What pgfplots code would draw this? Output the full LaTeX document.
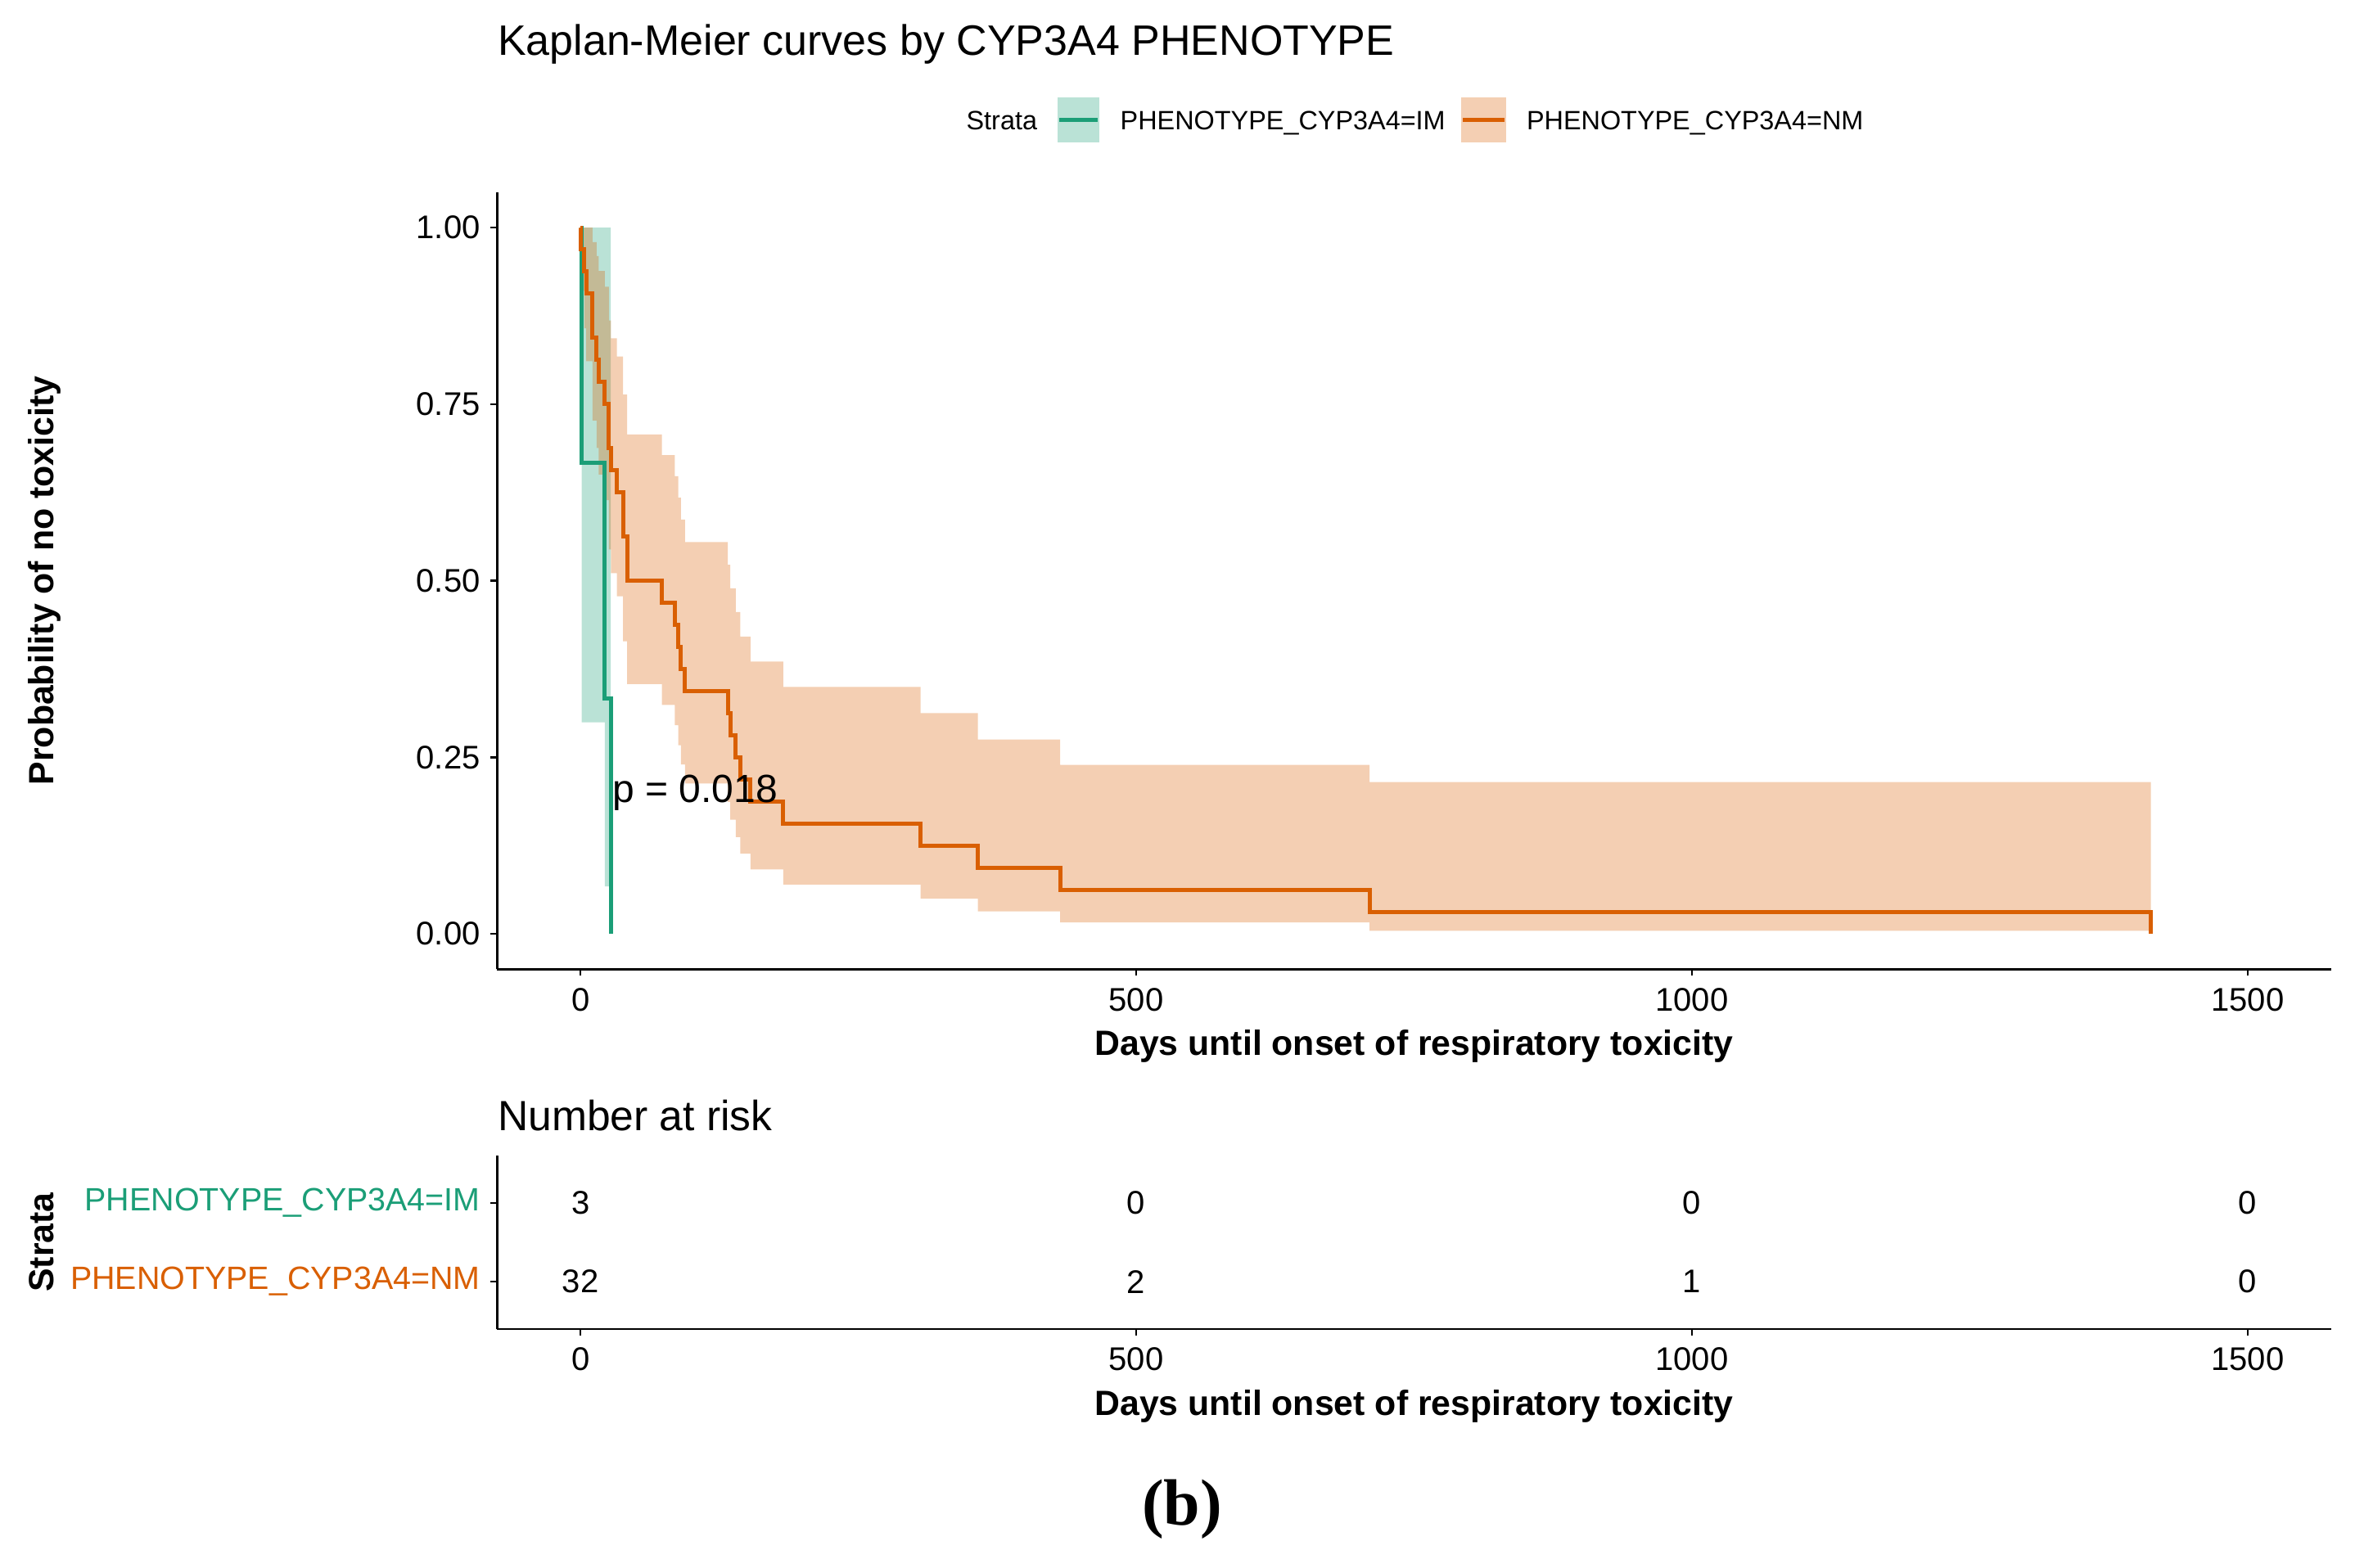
\documentclass[border=0pt]{standalone}
\usepackage{fontspec}
\setmainfont{Liberation Sans}
\newfontfamily\capfont{Liberation Serif}
\usepackage{pgfplots}
\usepackage{pgfplotstable}
\pgfplotsset{compat=1.18}
\usepgfplotslibrary{fillbetween}

\definecolor{imgreen}{HTML}{1B9E77}
\definecolor{nmorange}{HTML}{D95F02}

% survival estimate, valid from t onwards
\pgfplotstableread{
t s
0 1
1 0.6667
21.8 0.3333
27.3 0
}\imsurv
\pgfplotstableread{
t up lo
0 1 1
1 1 0.2995
21.8 1 0.0673
27.3 1 0.0673
}\imci
\pgfplotstableread{
t s
0 1
0.5 0.96875
3.4 0.9375
5.1 0.90625
10.8 0.84375
14.5 0.8125
16.4 0.78125
21.8 0.75
25.5 0.6875
27.5 0.65625
32.8 0.625
38.2 0.5625
41.9 0.5
73.3 0.46875
84.8 0.4375
88.0 0.40625
90.4 0.375
94.0 0.34375
132.6 0.3125
134.8 0.28125
139.8 0.25
143.7 0.21875
153.0 0.1875
182.4 0.15625
306 0.125
357.5 0.09375
431.5 0.0625
710 0.03125
1413 0
}\nmsurv
\pgfplotstableread{
t up lo
0 1 1
0.5 1 0.9103
3.4 1 0.8573
5.1 1 0.8107
10.8 0.9794 0.7269
14.5 0.9597 0.6879
16.4 0.9385 0.6504
21.8 0.9161 0.6140
25.5 0.8684 0.5443
27.5 0.8433 0.5107
32.8 0.8174 0.4779
38.2 0.7635 0.4144
41.9 0.7070 0.3536
73.3 0.6779 0.3242
84.8 0.6480 0.2954
88.0 0.6176 0.2672
90.4 0.5865 0.2398
94.0 0.5548 0.2130
132.6 0.5225 0.1869
134.8 0.4894 0.1616
139.8 0.4556 0.1372
143.7 0.4210 0.1137
153.0 0.3857 0.0912
182.4 0.3496 0.0698
306 0.3126 0.0500
357.5 0.2753 0.0319
431.5 0.2392 0.0163
710 0.2151 0.0045
1413 0.2151 0.0045
}\nmci
% number at risk (row 2 = IM, row 1 = NM)
\pgfplotstableread{
t row n
0 2 3
500 2 0
1000 2 0
1500 2 0
0 1 32
500 1 2
1000 1 1
1500 1 0
}\risk

\pgfplotsset{km/.style={
  scale only axis, width=560.08pt,
  xmin=-75, xmax=1575, xtick={0,500,1000,1500},
  axis x line*=bottom, axis y line*=left,
  axis line style={-, line width=0.6pt, black},
  tick align=outside, major tick length=2pt,
  every tick/.style={black, line width=0.6pt},
  tick label style={font=\fontsize{10}{12}\selectfont},
  /pgf/number format/assume math mode=true,
  /pgf/number format/1000 sep={},
  xticklabel style={inner sep=0pt, anchor=north, yshift=-3.6pt},
  yticklabel style={inner sep=0pt, anchor=east, xshift=-3pt},
  label style={font=\fontsize{10.7}{13}\selectfont\bfseries},
  xlabel style={at={(axis description cs:0.5,0)}, anchor=base, yshift=-26.3pt},
}}

\begin{document}
\begin{tikzpicture}
\node[anchor=base west, inner sep=0pt, font=\fontsize{13}{15}\selectfont]
  at (151.83pt,461.9pt) {Kaplan-Meier curves by CYP3A4 PHENOTYPE};

% legend
\node[anchor=base west, inner sep=0pt, font=\fontsize{8.1}{10}\selectfont]
  at (294.95pt,439.3pt) {Strata};
\fill[imgreen, opacity=0.3] (322.9pt,435.3pt) rectangle (335.8pt,449.1pt);
\draw[imgreen, line width=1.25pt] (323.4pt,442.2pt) -- (335.3pt,442.2pt);
\node[anchor=base west, inner sep=0pt, font=\fontsize{8.1}{10}\selectfont]
  at (341.97pt,439.3pt) {PHENOTYPE\_CYP3A4=IM};
\fill[nmorange, opacity=0.3] (446.3pt,435.3pt) rectangle (460.1pt,449.1pt);
\draw[nmorange, line width=1.25pt] (446.8pt,442.2pt) -- (459.6pt,442.2pt);
\node[anchor=base west, inner sep=0pt, font=\fontsize{8.1}{10}\selectfont]
  at (466.05pt,439.3pt) {PHENOTYPE\_CYP3A4=NM};

\begin{axis}[km, at={(151.83pt,182.80pt)}, anchor=south west, height=237.38pt,
  ymin=-0.05, ymax=1.05, ytick={0,0.25,0.5,0.75,1},
  yticklabel style={/pgf/number format/fixed, /pgf/number format/fixed zerofill,
    /pgf/number format/precision=2},
  xlabel={Days until onset of respiratory toxicity},
  ylabel={Probability of no toxicity},
  ylabel style={at={(axis description cs:-0.2466,0.5)}, anchor=center}]
  \addplot[imgreen, line width=1.25pt, const plot] table[x=t, y=s] {\imsurv};
  \addplot[nmorange, line width=1.25pt, const plot] table[x=t, y=s] {\nmsurv};
  \addplot[const plot, draw=none, name path=imU] table[x=t, y=up] {\imci};
  \addplot[const plot, draw=none, name path=imL] table[x=t, y=lo] {\imci};
  \addplot[fill=imgreen, fill opacity=0.3, draw=none] fill between[of=imU and imL];
  \addplot[const plot, draw=none, name path=nmU] table[x=t, y=up] {\nmci};
  \addplot[const plot, draw=none, name path=nmL] table[x=t, y=lo] {\nmci};
  \addplot[fill=nmorange, fill opacity=0.3, draw=none] fill between[of=nmU and nmL];
  \node[anchor=west, inner sep=0pt, font=\fontsize{12}{14}\selectfont]
    at (axis cs:28.3,0.2) {p = 0.018};
\end{axis}

\node[anchor=base west, inner sep=0pt, font=\fontsize{12.9}{15}\selectfont]
  at (151.83pt,133.5pt) {Number at risk};

\begin{axis}[km, at={(151.83pt,72.93pt)}, anchor=south west, height=52.98pt,
  ymin=0.4, ymax=2.6, ytick={1,2},
  yticklabels={{\color{nmorange}PHENOTYPE\_CYP3A4=NM},{\color{imgreen}PHENOTYPE\_CYP3A4=IM}},
  yticklabel style={font=\fontsize{9.85}{12}\selectfont},
  xlabel={Days until onset of respiratory toxicity},
  ylabel={Strata},
  ylabel style={at={(axis description cs:-0.2482,0.5)}, anchor=center}]
  \addplot[only marks, mark=*, mark size=0.2pt, mark options={draw opacity=0, fill opacity=0},
    nodes near coords, point meta=explicit symbolic,
    every node near coord/.append style={anchor=center, inner sep=0pt,
      text=black, text opacity=1, font=\fontsize{10}{12}\selectfont}]
    table[x=t, y=row, meta=n] {\risk};
\end{axis}

\node[inner sep=0pt, font=\capfont\bfseries\fontsize{20}{24}\selectfont]
  at (361.0pt,17.9pt) {(b)};
\path[use as bounding box] (0,0) rectangle (719.26pt,478.9pt);
\end{tikzpicture}
\end{document}
